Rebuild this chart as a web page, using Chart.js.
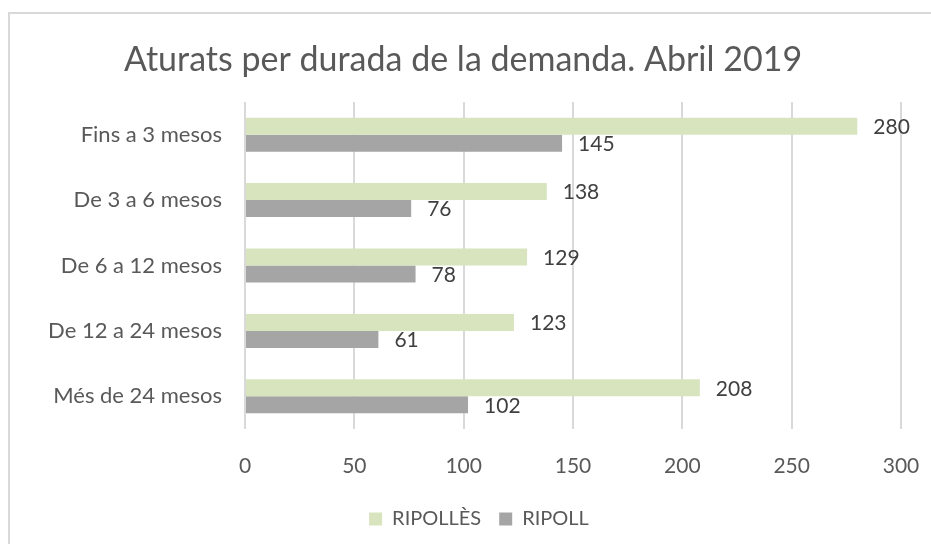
<!DOCTYPE html>
<html>
<head>
<meta charset="utf-8">
<script src="https://cdn.jsdelivr.net/npm/chart.js@4.4.0/dist/chart.umd.min.js"></script>
<style>
  html, body { margin: 0; padding: 0; background: #fff; }
  #wrap { width: 931px; height: 544px; position: relative; }
</style>
</head>
<body>
<div id="wrap"><canvas id="myChart" width="931" height="544"></canvas></div>
<script>
// data
const categories = ['Fins a 3 mesos', 'De 3 a 6 mesos', 'De 6 a 12 mesos', 'De 12 a 24 mesos', 'Més de 24 mesos'];
const ripolles = [280, 138, 129, 123, 208];
const ripoll = [145, 76, 78, 61, 102];
const xTicks = [0, 50, 100, 150, 200, 250, 300];

const textColor = '#595959';
const fontFamily = 'Lato, "Open Sans", sans-serif';

// light frame round the chart (top and left edges only are visible)
const framePlugin = {
    id: 'frame',
    beforeDraw(chart) {
        const ctx = chart.ctx;
        ctx.save();
        ctx.strokeStyle = '#d9d9d9';
        ctx.lineWidth = 2;
        ctx.beginPath();
        ctx.moveTo(9, 545);
        ctx.lineTo(9, 13);
        ctx.lineTo(932, 13);
        ctx.stroke();
        ctx.restore();
    },
    // the legend sits a bit right of the canvas centre in the original
    afterLayout(chart) {
        if (chart.legend) {
            chart.legend.left += 16;
            chart.legend.right += 16;
        }
    }
};

// value labels at the end of each bar
const valueLabels = {
    id: 'valueLabels',
    afterDatasetsDraw(chart) {
        const ctx = chart.ctx;
        ctx.save();
        ctx.font = '21px ' + fontFamily;
        ctx.fillStyle = '#404040';
        ctx.textAlign = 'left';
        ctx.textBaseline = 'middle';
        chart.data.datasets.forEach((ds, i) => {
            const meta = chart.getDatasetMeta(i);
            meta.data.forEach((bar, j) => {
                ctx.fillText(ds.data[j], bar.x + 16, bar.y + 1);
            });
        });
        ctx.restore();
    }
};

const data = {
    labels: categories,
    datasets: [
        {
            label: 'RIPOLLÈS',
            data: ripolles,
            backgroundColor: '#d7e4bd',
            borderWidth: 0
        },
        {
            label: 'RIPOLL',
            data: ripoll,
            backgroundColor: '#a5a5a5',
            borderWidth: 0
        }
    ]
};

const config = {
    type: 'bar',
    data: data,
    plugins: [framePlugin, valueLabels],
    options: {
        indexAxis: 'y',
        responsive: false,
        animation: false,
        categoryPercentage: 0.52,
        barPercentage: 1,
        layout: {
            padding: { left: 25, right: 30, top: 0, bottom: 5 }
        },
        scales: {
            x: {
                min: 0,
                max: 300,
                afterBuildTicks(scale) {
                    scale.ticks = xTicks.map(v => ({ value: v }));
                },
                afterFit(scale) {
                    scale.height = 62;
                    scale.paddingRight = 0;
                    scale.paddingLeft = 0;
                },
                grid: {
                    color: '#d9d9d9',
                    lineWidth: 2,
                    drawTicks: false
                },
                border: { display: false },
                ticks: {
                    color: textColor,
                    padding: 25,
                    font: { family: fontFamily, size: 21 }
                }
            },
            y: {
                afterFit(scale) {
                    scale.width = 220;
                },
                grid: { display: false, drawTicks: false },
                border: { display: false },
                ticks: {
                    color: textColor,
                    padding: 23,
                    font: { family: fontFamily, size: 22 }
                }
            }
        },
        plugins: {
            legend: {
                position: 'bottom',
                labels: {
                    color: textColor,
                    boxWidth: 13,
                    boxHeight: 13,
                    padding: 18,
                    font: { family: fontFamily, size: 20 }
                }
            },
            title: {
                display: true,
                text: 'Aturats per durada de la demanda. Abril 2019',
                color: textColor,
                padding: { top: 43, bottom: 25 },
                font: { family: fontFamily, size: 34, weight: 'normal', lineHeight: 1 }
            },
            tooltip: { enabled: false }
        }
    }
};

const myChart = new Chart(document.getElementById('myChart'), config);
</script>
</body>
</html>
